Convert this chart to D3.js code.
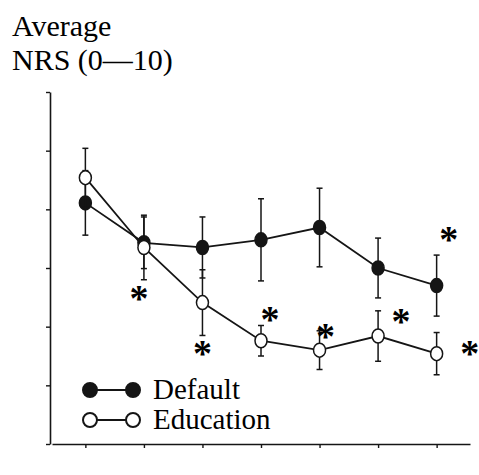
<!DOCTYPE html>
<html><head><meta charset="utf-8"><script src="https://cdn.jsdelivr.net/npm/d3@7"></script></head>
<body style="margin:0">
<script>
// data
const days = ["day 1", "day 2", "day 3", "day 4", "day 5", "day 6", "day 7"];
const defaultMean = [4.11, 3.43, 3.35, 3.48, 3.69, 3.0, 2.7];
const defaultErr = [0.55, 0.44, 0.52, 0.7, 0.67, 0.51, 0.52];
const educationMean = [4.54, 3.35, 2.41, 1.76, 1.6, 1.84, 1.54];
const educationErr = [0.5, 0.55, 0.56, 0.26, 0.33, 0.43, 0.36];
const yTicks = [0, 1, 2, 3, 4, 5, 6];
// significance stars: day, value level, pixel nudge sideways
const stars = [
  { day: "day 2", v: 2.61, dx: -5 },
  { day: "day 3", v: 1.67, dx: 0 },
  { day: "day 4", v: 2.25, dx: 9 },
  { day: "day 5", v: 1.96, dx: 6 },
  { day: "day 6", v: 2.22, dx: 23 },
  { day: "day 7", v: 1.67, dx: 33 },
  { day: "day 7", v: 3.62, dx: 12 }
];

const ink = "#151515";
const serif = "Liberation Serif";

let svg = d3.select("body").append("svg")
  .attr("width", 479)
  .attr("height", 475);

// scales
let x = d3.scalePoint().domain(days).range([52, 470]).padding(0.57);
let y = d3.scaleLinear().domain([0, 6]).range([444, 92]);

// title (default black fill)
svg.append("text").attr("x", 12).attr("y", 36)
  .style("font-family", serif).style("font-size", "30px")
  .text("Average");
svg.append("text").attr("x", 12).attr("y", 70)
  .style("font-family", serif).style("font-size", "30px")
  .text("NRS (0\u201410)");

// y axis
let yAxis = svg.append("g")
  .attr("transform", "translate(50,0)")
  .call(d3.axisLeft(y).tickValues(yTicks).tickSize(4).tickSizeOuter(0).tickFormat(d3.format("d")));
yAxis.attr("font-family", null).attr("font-size", null);
yAxis.select(".domain").attr("stroke", ink).attr("stroke-width", 1.6);
yAxis.selectAll(".tick line").attr("stroke", ink).attr("stroke-width", 1.4);
yAxis.selectAll(".tick text")
  .attr("x", -6)
  .attr("dy", "0.62em")
  .attr("fill", null)
  .style("font-family", serif)
  .style("font-size", "27px");

// x axis
let xAxis = svg.append("g")
  .attr("transform", "translate(0,444)")
  .call(d3.axisBottom(x).tickSize(4).tickSizeOuter(0));
xAxis.attr("font-family", null).attr("font-size", null);
xAxis.select(".domain").attr("stroke", ink).attr("stroke-width", 1.6);
xAxis.selectAll(".tick line").attr("stroke", ink).attr("stroke-width", 1.4);
xAxis.selectAll(".tick text")
  .attr("y", 14)
  .attr("fill", null)
  .style("font-family", serif)
  .style("font-size", "18px");

function drawSeries(means, errs, fill) {
  let pts = days.map((d, i) => ({ day: d, m: means[i], e: errs[i] }));
  let g = svg.append("g");

  // error bars
  g.selectAll("line.err").data(pts).enter().append("line")
    .attr("x1", d => x(d.day)).attr("x2", d => x(d.day))
    .attr("y1", d => y(d.m - d.e)).attr("y2", d => y(d.m + d.e))
    .attr("stroke", ink).attr("stroke-width", 1.5);
  [-1, 1].forEach(s => {
    g.selectAll("line.cap" + s).data(pts).enter().append("line")
      .attr("x1", d => x(d.day) - 3).attr("x2", d => x(d.day) + 3)
      .attr("y1", d => y(d.m + s * d.e)).attr("y2", d => y(d.m + s * d.e))
      .attr("stroke", ink).attr("stroke-width", 1.5);
  });

  // line
  g.append("path").datum(pts)
    .attr("fill", "none").attr("stroke", ink).attr("stroke-width", 1.8)
    .attr("d", d3.line().x(d => x(d.day)).y(d => y(d.m)));

  // markers
  g.selectAll("ellipse").data(pts).enter().append("ellipse")
    .attr("cx", d => x(d.day)).attr("cy", d => y(d.m))
    .attr("rx", 6).attr("ry", 7)
    .attr("fill", fill).attr("stroke", ink).attr("stroke-width", 1.5);
}

drawSeries(defaultMean, defaultErr, ink);
drawSeries(educationMean, educationErr, "#fff");

// stars
svg.selectAll("text.star").data(stars).enter().append("text")
  .attr("class", "star")
  .attr("x", d => x(d.day) + d.dx)
  .attr("y", d => y(d.v) + 20)
  .attr("text-anchor", "middle")
  .style("font-family", serif)
  .style("font-weight", "bold")
  .style("font-size", "38px")
  .text("*");

// legend
const legendItems = [
  { name: "Default", fill: ink },
  { name: "Education", fill: "#fff" }
];
let legend = svg.selectAll("g.legend").data(legendItems).enter().append("g")
  .attr("transform", (d, i) => "translate(0," + (390 + i * 30) + ")");
legend.append("line")
  .attr("x1", 90).attr("x2", 133).attr("y1", 0).attr("y2", 0)
  .attr("stroke", ink).attr("stroke-width", 1.8);
legend.selectAll("circle").data(d => [d, d]).enter().append("circle")
  .attr("cx", (d, i) => (i === 0 ? 90 : 133)).attr("cy", 0).attr("r", 7)
  .attr("fill", d => d.fill).attr("stroke", ink).attr("stroke-width", 2);
legend.append("text")
  .attr("x", 153).attr("y", 9)
  .style("font-family", serif)
  .style("font-size", "29px")
  .text(d => d.name);
</script>
</body></html>
